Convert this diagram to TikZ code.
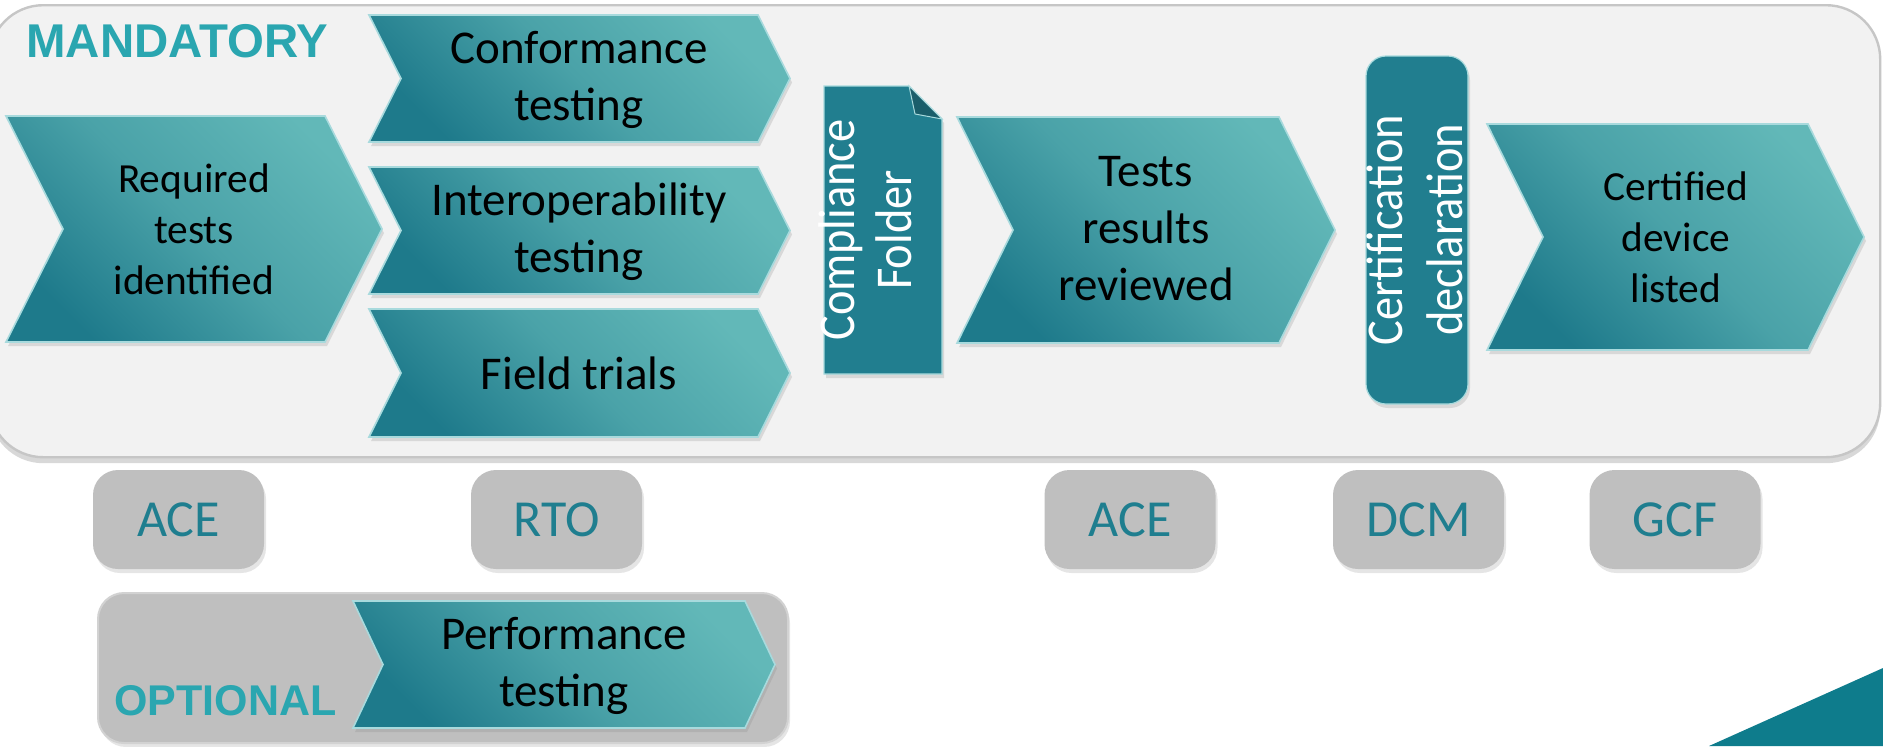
\documentclass[tikz,border=0pt]{standalone}
\usepackage{fontspec}
\setmainfont{Carlito}
\newfontfamily\headfont{Liberation Sans}
\usetikzlibrary{shadows}

\definecolor{tealdark}{HTML}{1E7A8B}
\definecolor{tealmid}{HTML}{4AA2A8}
\definecolor{teallight}{HTML}{62B8B8}
\definecolor{chevline}{HTML}{A8DADD}
\definecolor{headteal}{HTML}{2AA6B0}
\definecolor{labteal}{HTML}{1F7E8F}
\definecolor{boxteal}{HTML}{217E8F}
\definecolor{foldteal}{HTML}{1A5E6B}
\definecolor{panelgray}{HTML}{F2F2F2}
\definecolor{panelline}{HTML}{C6C6C6}
\definecolor{labgray}{HTML}{BFBFBF}
\definecolor{optline}{HTML}{D2D2D2}
\definecolor{cornerteal}{HTML}{0E7C8C}

\newcommand\chevshape[5]{%
  \path[chev] (#1,#3) -- (#2,#3) -- ({#2+#5},{(#3+#4)/2}) -- (#2,#4) -- (#1,#4) -- ({#1+#5},{(#3+#4)/2}) -- cycle;}

\tikzset{
  chev/.style={draw=chevline, line width=0.8pt, top color=teallight, bottom color=tealdark,
    middle color=tealmid, shading angle=-45,
    drop shadow={opacity=0.22, shadow xshift=1pt, shadow yshift=-2pt}},
  chevtext/.style={align=center, inner sep=0pt, text=black},
  bigtext/.style={chevtext, font=\fontsize{23.5}{28.5}\selectfont},
  smalltext/.style={chevtext, font=\fontsize{20.7}{25.5}\selectfont},
  panel/.style={draw=panelline, line width=1.2pt, fill=panelgray, rounded corners=27pt,
    inner sep=0pt, drop shadow={opacity=0.3, shadow xshift=0pt, shadow yshift=-3pt}},
  lab/.style={fill=labgray, rounded corners=12.5pt, minimum width=85.5pt, minimum height=49.5pt,
    inner sep=0pt, text=labteal, font=\fontsize{26}{30}\selectfont,
    drop shadow={opacity=0.2, shadow xshift=1pt, shadow yshift=-2pt}},
  optpanel/.style={fill=labgray, draw=optline, line width=1pt, rounded corners=13pt,
    minimum width=345pt, minimum height=75pt, inner sep=0pt,
    drop shadow={opacity=0.2, shadow xshift=1pt, shadow yshift=-2pt}},
  heading/.style={anchor=base west, inner sep=0pt, text=headteal},
  vbox/.style={draw=chevline, line width=0.6pt, fill=boxteal,
    drop shadow={opacity=0.22, shadow xshift=1pt, shadow yshift=-2pt}},
  vtext/.style={align=center, inner sep=0pt, text=white, rotate=90, xscale=0.9,
    font=\fontsize{25.8}{28.5}\selectfont},
}

\begin{document}
\begin{tikzpicture}[x=0.5pt, y=-0.5pt]
\useasboundingbox (0,0) rectangle (1883,746);
\fill[white] (0,0) rectangle (1883,746);

% bottom-right corner wedge
\fill[cornerteal] (1709,746) -- (1883,668) -- (1883,746) -- cycle;

% mandatory panel
\node[panel, anchor=north west, minimum width=945.5pt, minimum height=226pt] (mandatory) at (-12,4) {};
\node[heading, font=\headfont\bfseries\fontsize{23.7}{27}\selectfont] (mandlabel) at (26,57) {MANDATORY};

% chevrons in the mandatory panel
\chevshape{6}{325}{116}{342}{57}
\node[smalltext] (required) at (194,229) {Required\\tests\\identified};

\chevshape{369}{758}{15}{142}{32}
\node[bigtext] (conformance) at (579,80) {Conformance\\testing};

\chevshape{369}{758}{167}{294}{32}
\node[bigtext] (interop) at (579,232) {Interoperability\\testing};

\chevshape{369}{758}{309}{437}{32}
\node[bigtext] (field) at (579,373) {Field trials};

% compliance folder
\path[vbox] (824,86) -- (909,86) -- (942,119) -- (942,374) -- (824,374) -- cycle;
\path[fill=foldteal, draw=chevline, line width=0.5pt] (909,86) -- (942,119) -- (915,114) -- cycle;
\node[vtext] (folder) at (865,230) {Compliance\\Folder};

\chevshape{957}{1279}{117}{343}{56}
\node[bigtext] (reviewed) at (1146,229) {Tests\\results\\reviewed};

% certification declaration
\path[vbox, rounded corners=10pt] (1366,56) rectangle (1468,404);
\node[vtext, font=\fontsize{25.8}{30}\selectfont] (certdecl) at (1415,230) {Certification\\declaration};

\chevshape{1487}{1808}{124}{350}{56}
\node[smalltext] (listed) at (1676,237) {Certified\\device\\listed};

% organisation labels
\node[lab] (ace1) at (178.5,519.5) {ACE};
\node[lab] (rto) at (556.5,519.5) {RTO};
\node[lab] (ace2) at (1130,519.5) {ACE};
\node[lab] (dcm) at (1418.5,519.5) {DCM};
\node[lab] (gcf) at (1675,519.5) {GCF};

% optional panel
\node[optpanel] (optional) at (443,668) {};
\node[heading, font=\headfont\bfseries\fontsize{21.5}{25}\selectfont] (optlabel) at (114,715) {OPTIONAL};
\chevshape{353}{745}{601}{728}{30}
\node[bigtext] (performance) at (564,666) {Performance\\testing};
\end{tikzpicture}
\end{document}
